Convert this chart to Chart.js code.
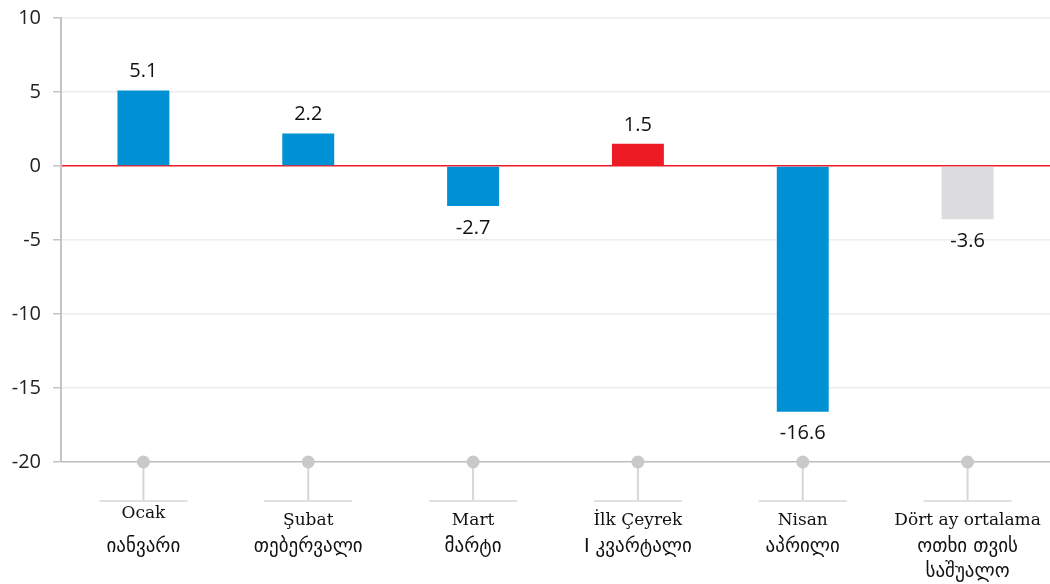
<!DOCTYPE html>
<html>
<head>
<meta charset="utf-8">
<script src="https://cdn.jsdelivr.net/npm/chart.js@4/dist/chart.umd.min.js"></script>
<style>
  html, body { margin: 0; padding: 0; background: #fff; overflow: hidden; }
  canvas { display: block; }
</style>
</head>
<body>
<canvas id="chart" width="1050" height="584"></canvas>
<script>
// data
const labelsTr = ['Ocak', 'Şubat', 'Mart', 'İlk Çeyrek', 'Nisan', 'Dört ay ortalama'];
const labelsKa = [['იანვარი'], ['თებერვალი'], ['მარტი'], ['I კვარტალი'], ['აპრილი'], ['ოთხი თვის', 'საშუალო']];
const values = [5.1, 2.2, -2.7, 1.5, -16.6, -3.6];
const yTicks = [10, 5, 0, -5, -10, -15, -20];

const barColors = ['#0091d5', '#0091d5', '#0091d5', '#ed1c24', '#0091d5', '#dcdcde'];
const yMin = yTicks[yTicks.length - 1];

// value labels + stems and category labels below the axis
const extras = {
  id: 'extras',
  afterDatasetsDraw(chart) {
    const ctx = chart.ctx;
    const meta = chart.getDatasetMeta(0);
    ctx.save();
    ctx.font = '20px "Open Sans", sans-serif';
    ctx.fillStyle = '#111';
    ctx.textAlign = 'center';
    ctx.textBaseline = 'middle';
    meta.data.forEach((bar, i) => {
      const v = values[i];
      const ly = v >= 0 ? bar.y - 19 : bar.y + 22;
      ctx.fillText(String(v), bar.x, ly);
    });
    ctx.restore();
  },
  beforeDatasetsDraw(chart) {
    const ctx = chart.ctx;
    const x = chart.scales.x, y = chart.scales.y;
    const base = y.getPixelForValue(yMin);
    ctx.save();
    labelsTr.forEach((lab, i) => {
      const cx = x.getPixelForValue(i);
      ctx.strokeStyle = '#d6d6d6';
      ctx.lineWidth = 2;
      ctx.beginPath();
      ctx.moveTo(cx, base);
      ctx.lineTo(cx, base + 39);
      ctx.stroke();
      ctx.strokeStyle = '#e0e0e0';
      ctx.beginPath();
      ctx.moveTo(cx - 44, base + 39);
      ctx.lineTo(cx + 44, base + 39);
      ctx.stroke();

      ctx.fillStyle = '#111';
      ctx.textAlign = 'center';
      ctx.textBaseline = 'middle';
      ctx.font = '17px "DejaVu Serif", serif';
      ctx.fillText(lab, cx, base + (i === 0 ? 52 : 59));
      ctx.font = '19px "DejaVu Sans", sans-serif';
      labelsKa[i].forEach((line, j) => {
        ctx.fillText(line, cx, base + 85 + j * 25);
      });
    });
    ctx.restore();
  }
};

new Chart(document.getElementById('chart'), {
  data: {
    labels: labelsTr,
    datasets: [
      {
        type: 'bar',
        data: values,
        backgroundColor: barColors,
        barPercentage: 0.315,
        categoryPercentage: 1,
        order: 2
      },
      {
        type: 'line',
        data: values.map(() => yMin),
        showLine: false,
        clip: false,
        pointRadius: 6.5,
        pointHoverRadius: 6.5,
        pointBackgroundColor: '#c9c9cb',
        pointBorderWidth: 0,
        order: 1
      }
    ]
  },
  options: {
    responsive: false,
    animation: false,
    devicePixelRatio: 1,
    layout: { autoPadding: false, padding: { top: 18, bottom: 122, left: 0, right: -4 } },
    plugins: {
      legend: { display: false },
      tooltip: { enabled: false }
    },
    scales: {
      x: {
        display: false
      },
      y: {
        min: yMin,
        max: yTicks[0],
        afterFit(s) {
          s.width = 61;
          s.paddingTop = 0; s.paddingBottom = 0;
        },
        afterBuildTicks(s) { s.ticks = yTicks.map(v => ({ value: v })); },
        ticks: {
          padding: 12,
          color: '#222',
          font: { family: '"Open Sans", sans-serif', size: 20 }
        },
        border: { color: '#c4c4c4', width: 2 },
        grid: {
          tickLength: 8,
          tickColor: '#c4c4c4',
          lineWidth: 1.5,
          color: ctx => {
            if (!ctx.tick) return '#ececec';
            if (ctx.tick.value === 0) return '#ed1c24';
            if (ctx.tick.value === yMin) return '#bdbdbd';
            return '#ececec';
          }
        }
      }
    }
  },
  plugins: [extras]
});
</script>
</body>
</html>
